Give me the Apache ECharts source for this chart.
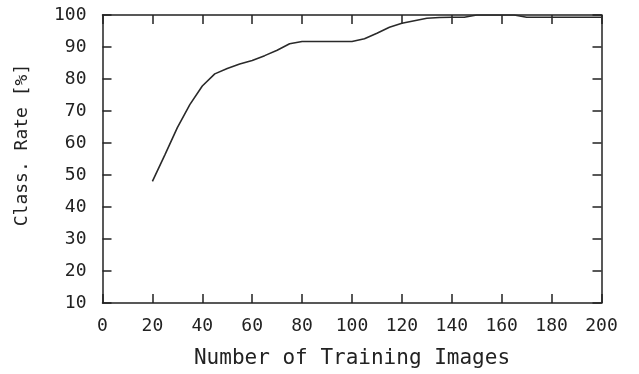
<!DOCTYPE html>
<html>
<head>
<meta charset="utf-8">
<script src="https://cdn.jsdelivr.net/npm/echarts@6/dist/echarts.min.js"></script>
<style>html,body{margin:0;padding:0;background:#fff}#c{width:639px;height:374px}</style>
</head>
<body>
<div id="c"></div>
<script>
var trainingImages = [20, 25, 30, 35, 40, 45, 50, 55, 60, 65, 70, 75, 80, 85, 90, 95, 100, 105, 110, 115, 120, 125, 130, 135, 140, 145, 150, 155, 160, 165, 170, 175, 180, 185, 190, 195, 200];
var classRate = [48, 56.3, 64.8, 72, 77.8, 81.6, 83.3, 84.7, 85.8, 87.3, 89, 91, 91.7, 91.7, 91.7, 91.7, 91.7, 92.6, 94.3, 96.2, 97.4, 98.2, 99, 99.2, 99.3, 99.3, 100, 100, 100, 100, 99.3, 99.3, 99.3, 99.3, 99.3, 99.3, 99.3];
var xTitle = 'Number of Training Images';
var yTitle = 'Class. Rate [%]';

var FONT = 'DejaVu Sans Mono';
var INK = '#222';
var chart = echarts.init(document.getElementById('c'));
var data = trainingImages.map(function (x, i) { return [x, classRate[i]]; });
var tickCommon = { show: true, inside: true, length: 9, lineStyle: { color: INK, width: 1.5 } };
var lineCommon = { show: true, onZero: false, lineStyle: { color: INK, width: 1.5 } };
chart.setOption({
  animation: false,
  backgroundColor: '#fff',
  grid: { left: 102.5, right: 37.5, top: 15, bottom: 68.5 },
  xAxis: [{
    type: 'value', min: 0, max: 200, interval: 20,
    axisLine: lineCommon, axisTick: tickCommon, splitLine: { show: false },
    axisLabel: { color: INK, fontFamily: FONT, fontSize: 18, margin: 14 },
    name: xTitle, nameLocation: 'middle', nameGap: 45,
    nameTextStyle: { color: INK, fontFamily: FONT, fontSize: 21 }
  }, {
    type: 'value', min: 0, max: 200, interval: 20, position: 'top',
    axisLine: lineCommon, axisTick: tickCommon, splitLine: { show: false },
    axisLabel: { show: false }
  }],
  yAxis: [{
    type: 'value', min: 10, max: 100, interval: 10,
    axisLine: lineCommon, axisTick: tickCommon, splitLine: { show: false },
    axisLabel: { color: INK, fontFamily: FONT, fontSize: 18, margin: 16 }
  }, {
    type: 'value', min: 10, max: 100, interval: 10, position: 'right',
    axisLine: lineCommon, axisTick: tickCommon, splitLine: { show: false },
    axisLabel: { show: false }
  }],
  graphic: [{
    type: 'text', x: 22, y: 145, rotation: Math.PI / 2,
    style: { text: yTitle, fill: INK, font: '18px "' + FONT + '"', align: 'center', verticalAlign: 'middle' }
  }],
  series: [{
    type: 'line', data: data, showSymbol: false, symbol: 'none',
    lineStyle: { color: '#2a2a2a', width: 1.6 }, z: 1
  }]
});
</script>
</body>
</html>
